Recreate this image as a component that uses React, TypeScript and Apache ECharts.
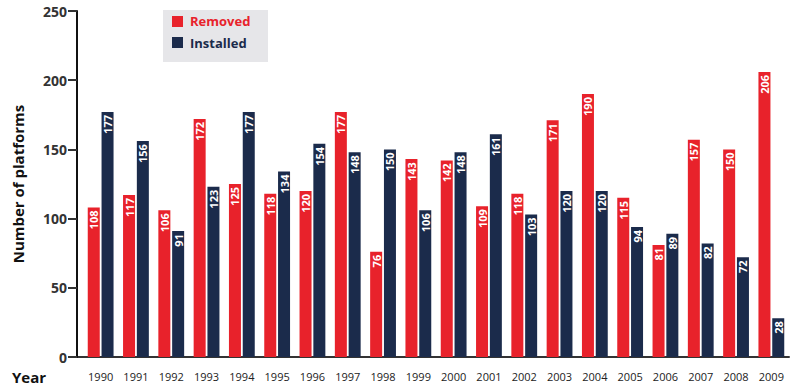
import React, { useEffect, useRef } from "react";
import * as echarts from "echarts";

const years = ["1990","1991","1992","1993","1994","1995","1996","1997","1998","1999","2000","2001","2002","2003","2004","2005","2006","2007","2008","2009"];
const removed = [108,117,106,172,125,118,120,177,76,143,142,109,118,171,190,115,81,157,150,206];
const installed = [177,156,91,123,177,134,154,148,150,106,148,161,103,120,120,94,89,82,72,28];
const yTicks = { min: 0, max: 250, interval: 50 };

const RED = "#e8222b";
const NAVY = "#1b2b4b";
const FONT = "'Open Sans', 'DejaVu Sans', sans-serif";

export default function App() {
  const ref = useRef<HTMLDivElement>(null);
  useEffect(() => {
    if (!ref.current) return;
    const chart = echarts.init(ref.current, null, { renderer: "svg" });
    const label = {
      show: true,
      position: "insideTop" as const,
      rotate: 90,
      align: "right" as const,
      verticalAlign: "middle" as const,
      distance: 3,
      color: "#fff",
      fontSize: 11,
      fontWeight: "bold" as const,
      fontFamily: FONT,
    };
    chart.setOption({
      animation: false,
      grid: { left: 83, right: 11, top: 11, bottom: 34, containLabel: false },
      legend: { show: false },
      xAxis: {
        type: "category",
        data: years,
        axisLine: { lineStyle: { color: "#333", width: 2 } },
        axisTick: { show: false },
        axisLabel: { color: "#222", fontSize: 11, fontFamily: FONT, margin: 14 },
      },
      yAxis: {
        type: "value",
        min: yTicks.min,
        max: yTicks.max,
        interval: yTicks.interval,
        offset: 6,
        name: "Number of platforms",
        nameLocation: "middle",
        nameGap: 52,
        nameTextStyle: { color: "#111", fontSize: 15, fontWeight: "bold", fontFamily: FONT },
        axisLine: { show: true, lineStyle: { color: "#111", width: 2 } },
        axisTick: { show: true, length: 9, lineStyle: { color: "#333", width: 2 } },
        axisLabel: { color: "#333", fontSize: 14, fontWeight: "bold", fontFamily: FONT, margin: 10 },
        splitLine: { show: false },
      },
      series: [
        {
          name: "Removed",
          type: "bar",
          data: removed,
          barWidth: 12,
          barGap: "15%",
          barCategoryGap: "30%",
          itemStyle: { color: RED },
          label,
        },
        {
          name: "Installed",
          type: "bar",
          data: installed,
          barWidth: 12,
          barGap: "15%",
          itemStyle: { color: NAVY },
          label,
        },
      ],
      graphic: [
        { type: "line", shape: { x1: 76, y1: 357, x2: 84, y2: 357 }, style: { stroke: "#333", lineWidth: 2 } },
        { type: "rect", shape: { x: 163, y: 10, width: 105, height: 52 }, style: { fill: "#e6e6e9" } },
        { type: "rect", shape: { x: 172, y: 16, width: 11, height: 11 }, style: { fill: RED } },
        { type: "text", x: 190, y: 21, style: { text: "Removed", fill: RED, font: `bold 13px ${FONT}`, verticalAlign: "middle" } },
        { type: "rect", shape: { x: 172, y: 37, width: 11, height: 11 }, style: { fill: NAVY } },
        { type: "text", x: 190, y: 43, style: { text: "Installed", fill: NAVY, font: `bold 13px ${FONT}`, verticalAlign: "middle" } },
        { type: "text", x: 12, y: 377, style: { text: "Year", fill: "#111", font: `bold 15px ${FONT}`, verticalAlign: "middle" } },
      ],
    });
    return () => chart.dispose();
  }, []);
  return <div ref={ref} style={{ width: 800, height: 391, position: "absolute", left: 0, top: 0 }} />;
}
